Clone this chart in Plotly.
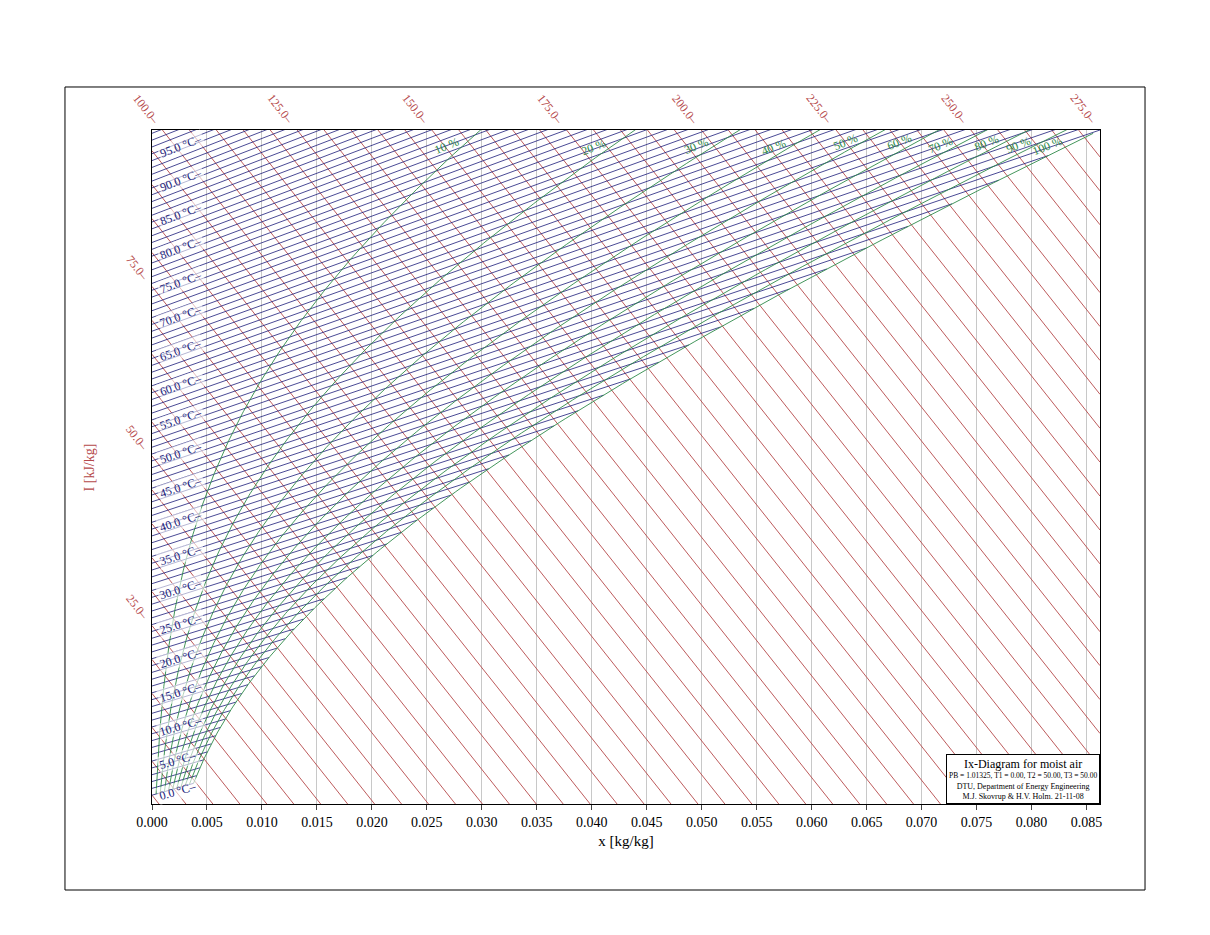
import numpy as np
import plotly.graph_objects as go

# psychrometric settings
P = 101.325          # kPa
SKEW = 2040.0        # oblique axis: y = h - SKEW*x
T_MAX_SAT = 50.0

temps = list(range(0, 100))                   # isotherms, 1 degC step
temp_labels = list(range(0, 100, 5))
rh_values = [0.1, 0.2, 0.3, 0.4, 0.5, 0.6, 0.7, 0.8, 0.9, 1.0]
enthalpies = list(range(0, 280, 5))
enthalpy_labels = [25, 50, 75, 100, 125, 150, 175, 200, 225, 250, 275]
x_ticks = [0.000, 0.005, 0.010, 0.015, 0.020, 0.025, 0.030, 0.035, 0.040,
           0.045, 0.050, 0.055, 0.060, 0.065, 0.070, 0.075, 0.080, 0.085]


def psat(t):
    return 0.61078 * np.exp(17.27 * t / (t + 237.3))


def xsat(t, phi=1.0):
    pv = phi * psat(t)
    return 0.622 * pv / (P - pv)


def ycoord(t, x):
    h = 1.006 * t + x * (2501 + 1.86 * t)
    return h - SKEW * x


X_MAX = xsat(T_MAX_SAT)
Y_TOP = ycoord(T_MAX_SAT, X_MAX)
Y_BOT = -1.3

RED = "#b5484a"
BLUE = "#1c1c7a"
GREEN = "#2f8a4a"
FONT = "Liberation Serif"

fig = go.Figure()

# enthalpy lines
ex, ey = [], []
for h in enthalpies:
    xs = np.array([0.0, X_MAX])
    ex += list(xs) + [None]
    ey += list(h - SKEW * xs) + [None]
fig.add_trace(go.Scatter(x=ex, y=ey, mode="lines", line=dict(color=RED, width=0.9),
                         hoverinfo="skip"))

# isotherms
tx, ty = [], []
for t in temps:
    xe = min(xsat(t), X_MAX)
    xs = np.linspace(0, xe, 30)
    tx += list(xs) + [None]
    ty += list(ycoord(t, xs)) + [None]
fig.add_trace(go.Scatter(x=tx, y=ty, mode="lines", line=dict(color=BLUE, width=0.8),
                         hoverinfo="skip"))

# relative humidity lines
tt = np.linspace(0, 99, 400)
for phi in rh_values:
    xs = xsat(tt, phi)
    ys = ycoord(tt, xs)
    m = (xs >= 0) & (xs <= X_MAX * 1.001)
    fig.add_trace(go.Scatter(x=xs[m], y=ys[m], mode="lines",
                             line=dict(color=GREEN, width=0.9), hoverinfo="skip"))
    # label near the top
    k = np.argmax(ys[m] > Y_TOP - 2.5)
    xk, yk = xs[m][k], ys[m][k]
    if yk > Y_TOP - 2.5:
        fig.add_annotation(x=xk, y=yk, text=f"{int(round(phi*100))} %",
                           showarrow=False, textangle=-22, xanchor="right",
                           font=dict(family=FONT, size=12, color=GREEN))

# temperature labels
for t in temp_labels:
    xl = 0.0003
    ang = -np.degrees(np.arctan((2501 + 1.86 * t - SKEW) * 6.75 / 10930))
    fig.add_annotation(x=xl, y=max(ycoord(t, xl), 0.6), text=f"{t:.1f} °C–",
                       showarrow=False, textangle=ang, xanchor="left", yanchor="middle",
                       bgcolor="rgba(255,255,255,0.6)",
                       font=dict(family=FONT, size=12, color=BLUE))

# enthalpy labels
for h in enthalpy_labels:
    if h < Y_TOP:
        xl, yl = 0.0, h
    else:
        xl, yl = min((h - Y_TOP) / SKEW, X_MAX), Y_TOP
    fig.add_annotation(x=xl, y=yl, text=f"{h:.1f}–", showarrow=False, textangle=52,
                       xanchor="right", yanchor="bottom", xshift=2,
                       font=dict(family=FONT, size=12, color=RED))

# info box
fig.add_annotation(
    xref="paper", yref="paper", x=1, y=0, xanchor="right", yanchor="bottom",
    text=("<span style='font-size:12px'>Ix-Diagram for moist air</span><br>"
          "<span style='font-size:7.5px'>PB = 1.01325, T1 = 0.00, T2 = 50.00, T3 = 50.00</span><br>"
          "<span style='font-size:8px'>DTU, Department of Energy Engineering</span><br>"
          "<span style='font-size:8px'>M.J. Skovrup &amp; H.V. Holm. 21-11-08</span>"),
    showarrow=False, bordercolor="black", borderwidth=1, bgcolor="white", borderpad=2,
    font=dict(family=FONT, size=8, color="black"))

# y title
fig.add_annotation(xref="paper", yref="paper", x=-0.056, xanchor="right", y=0.5,
                   text="I [kJ/kg]", showarrow=False, textangle=-90,
                   font=dict(family=FONT, size=14, color=RED))

# outer frame
fig.add_shape(type="rect", xref="paper", yref="paper", x0=-0.0918, x1=1.0475,
              y0=-0.1276, y1=1.0638, line=dict(color="black", width=1))

fig.update_layout(
    width=1210, height=935, showlegend=False,
    plot_bgcolor="white", paper_bgcolor="white",
    margin=dict(l=144, r=118, t=122, b=139),
    font=dict(family=FONT, size=14, color="black"),
)
fig.update_xaxes(range=[0, X_MAX], tickvals=x_ticks,
                 ticktext=[f"{v:.3f}" for v in x_ticks],
                 showgrid=True, gridcolor="#c8c8c8", gridwidth=1,
                 showline=True, linecolor="black", mirror=True, ticks="outside",
                 ticklen=5, zeroline=False,
                 title=dict(text="x [kg/kg]", standoff=6,
                            font=dict(family=FONT, size=15)))
fig.update_yaxes(range=[Y_BOT, Y_TOP], showticklabels=False, showgrid=False,
                 zeroline=False, showline=True, linecolor="black", mirror=True)

fig.write_html("out.html")
